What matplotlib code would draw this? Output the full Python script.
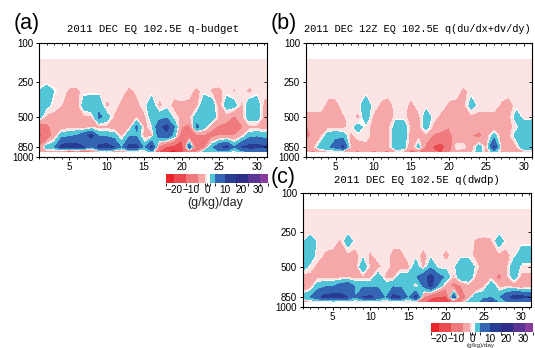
import matplotlib
matplotlib.use("Agg")
import matplotlib.pyplot as plt
import numpy as np
from matplotlib.colors import ListedColormap, BoundaryNorm
from matplotlib.cm import ScalarMappable
from matplotlib.ticker import MultipleLocator, FixedLocator

plt.rcParams['font.family'] = ['Liberation Sans', 'DejaVu Sans']

# pressure levels (hPa) and days of December 2011
plev = [150, 200, 250, 300, 400, 500, 600, 700, 850, 925]
days = list(range(1, 32))
bg = [-1] * 31

# (a) q-budget, rows 300..925 hPa
a300 = [0, 2.5, 0, -1, -2.5, -3, -1, -1, -1, -1, -1, -1, -3, -1.5, -1, -1, -1, -1, -1, -1, -1, -3, -1, -2.5, -3, -1, -2.5, -1, -3, -1, -1]
a400 = [2, 1, -1, -2, -3.5, -4, 2, 3, 2.5, -3, -1, -3, -4, -3, -1, 2, -3, -1, -3, -2.5, -3, -3, 3, 2.5, -4, 2, 1.5, -3, 2.5, 2, -3]
a500 = [1.5, -3, -3, -3, -4, -3, -3, -2.5, 5, 2, -2.5, -4, -3, -2.5, -3, 1.5, 2, 3, -1, -3, -3, 2, 4, 3, -3, -4, -7, -3, 2, 2, -3]
a600 = [-10, -8, -4, -4, -3, -3, -4, -3, -3, -3, -4, -4, -3, 5, -3, -1, 8, 12, 4, -6, -8, 5, 1.5, -5, -7, -8, -14, -7, -3, -3, -4]
a700 = [-14, -12, -4, 2, 3, 4, 8, 12, 3, 3, 2, -3, 3, 3, -3, -3, 6, 8, 2, -10, -10, -8, -7, -8, -6, -6, -6, -3, 2, 3, 2]
a850 = [-7, 2, 3, 12, 14, 13, 10, 3, 12, 13, 10, 3, 12, 12, 2, 12, -8, -14, -16, -18, 8, -12, -8, 3, 8, 12, 4, 10, 12, 12, 11]
a925 = [-3, -4, -5, -8, -14, -10, -12, -8, -5, -3, -6, -5, -4, -5, -3, 2, -14, -18, -28, -14, -10, -6, 2, 2, 3, 2, -3, 2, 3, 2, 3]

# (b) q(du/dx+dv/dy)
b300 = [-1] * 21 + [-3] + [-1] * 9
b400 = [-1, -1, -1, -3, -3, -1, -1, -1, 2, -1, -2.5, -3.5, -1, -1, -3, -1, -1, -1, -1, -2.5, -3, -3, 1.5, -1, -1, -1, -2.5, -3.5, -1, -1, -1]
b500 = [-3, -3, -3, -3, -3, -2.5, -1, -3, 2, -2.5, -3, -4, -1, -1, -3.5, -3, 2, -1, -3, -3, -3, -3, -3, -3, -3, -3, -3, -3, 1.5, -1, -1]
b600 = [-7, -4, -3, -3, -3, -3, -1, 1.5, -1, -3, -4, -3, 2, 2.5, -3, -3, 1.5, -3, -4, -6, -4, -3, -3, -4, -4, -4, -4, -3, -1, 2, 3]
b700 = [-8, -5, -3, 2, 3, 2, -3, -1, -1, -3, -3, -3, 2.5, 2.5, -4, -3, -3, -7, -8, -8, -4, -3, -6, -8, -4, 2, -4, -3, 1.5, 2.5, 2.5]
b850 = [-4, -3, 2, 3, 6, 11, -3, -4, -3, -4, -4, -3, 2.5, 2, -5, 1.5, -8, -14, -16, -10, -1, -1.5, -4, 2, -3, 11, -3, -3, -2.5, 3, 3]
b925 = [-5, -8, -4, -3, -3, -5, -6, -7, -5, -7, -6, -8, -3, -3, -8, -7, -9, -12, -14, -7, -3, -3, -3, 2, -4, 2, -3, -4, -3, -3, -3]

# (c) q(dwdp)
c300 = [-1, 2.5, -1, -1, -1, -2.5, 2, -1, -1, -1, -1, -1, -1, -1, -1, -1, -1, -1, -1, -1, -1, -1, -1, -2.5, -3, -2.5, 2, -1, -1, -1, -1]
c400 = [2, 2, -1, -2.5, -3, -3.5, -3, -3, -1, -2.5, -1, -1, -3, -3, -1, -1, -3, -1, -1, -3, -1, -1, -1, -3, -3, -3, -3, -3, -1, 2, 2]
c500 = [2, -1, -3, -3, -4, -3, -3, -4, 3, -3, -3, -1, -3, -3, -3, 2, -3, 3, -1, -1, -1, 3, 3, -1, -4, -4, -4, -3, 3, -1, -1]
c600 = [-4, -3, -3, -3, -3, -3, -3, -3, -3, -3, 2.5, -3, -3, 2, 2, 3, 8, 12, 6, 3, -3, 3, 3, -3, -3, -3, -8, -3, 2, -3, -3]
c700 = [-8, -4, 2, 3, 3, 6, 8, 3, 3, 3, 3, 2, 3, 3, 3, -3, 5, 12, 3, -4, -8, -6, -3, -6, -3, 3, -3, -3, -4, -6, -4]
c850 = [3, 4, 8, 12, 13, 12, 10, 4, 10, 11, 8, 3, 12, 10, 3, 12, -6, -12, -14, -14, 8, -10, -4, 3, 3, 3, 3, 8, 12, 12, 10]
c925 = [-6, -3, -3, -4, -3, -3, -4, -3, -3, -3, -3, -3, -3, -3, -3, -4, -12, -16, -20, -16, -12, -6, 2, 2, 6, 11, 3, 3, 3, 3, 3]

q_budget = [bg, bg, bg, a300, a400, a500, a600, a700, a850, a925]
q_div = [bg, bg, bg, b300, b400, b500, b600, b700, b850, b925]
q_dwdp = [bg, bg, bg, c300, c400, c500, c600, c700, c850, c925]

fill_levels = [-1000, -20, -13, -6, -2, -0.3, 0.1, 4, 10, 17, 24, 31, 1000]
cbar_bounds = [-25, -20, -13, -6, -2, -0.5, 1, 4, 10, 17, 24, 31, 36]
cbar_ticks = [-20, -10, 0, 10, 20, 30]
colors = ["#e8242a", "#eb4b50", "#f07b7e", "#f6a8a9", "#fde4e4", "#ffffff",
          "#52c6d6", "#3465b4", "#283c94", "#2e2d88", "#5b3596", "#893c9b"]

W, H = 535, 348


def frac(l, t, r, b):
    return [l / W, 1 - b / H, (r - l) / W, (b - t) / H]


def fwd(p):
    p = np.asarray(p, float)
    return np.sign(p) * np.abs(p) ** 0.19


def inv(h):
    h = np.asarray(h, float)
    return np.sign(h) * np.abs(h) ** (1 / 0.19)


def setup(ax, xmax):
    ax.set_yscale('function', functions=(fwd, inv))
    ax.set_xlim(1, xmax)
    ax.set_ylim(1000, 100)
    ax.yaxis.set_major_locator(FixedLocator([100, 250, 500, 850, 1000]))
    ax.yaxis.set_minor_locator(FixedLocator([]))
    ax.xaxis.set_major_locator(FixedLocator([5, 10, 15, 20, 25, 30]))
    ax.xaxis.set_minor_locator(MultipleLocator(1))


def panel(box, rows, xmax, title, tx, ty, tsize, label, lx, ly):
    ax = fig.add_axes(frac(*box))
    z = np.array(rows, float)
    z = np.column_stack([z, z[:, -1]])
    x = np.array(days + [xmax], float)
    ax.contourf(x, plev, z, levels=fill_levels, colors=colors)
    setup(ax, xmax)
    ax.set_yticklabels(["100", "250", "500", "850", "1000"])
    ax.tick_params(which='major', direction='out', length=2.5, width=0.7,
                   labelsize=7, pad=1.5)
    ax.tick_params(which='minor', direction='out', length=1.5, width=0.6)
    for s in ax.spines.values():
        s.set_linewidth(0.8)
    ov = fig.add_axes(frac(*box), frameon=False)
    setup(ov, xmax)
    ov.patch.set_visible(False)
    ov.tick_params(which='both', direction='in', bottom=False, left=False,
                   top=True, right=True, labelbottom=False, labelleft=False,
                   width=0.6)
    ov.tick_params(which='major', length=2.5)
    ov.tick_params(which='minor', length=1.5)
    fig.text(tx / W, 1 - ty / H, title, ha='center', va='center',
             family='Liberation Mono', fontsize=tsize)
    fig.text(lx / W, 1 - ly / H, label, ha='center', va='center', fontsize=15.5)
    return ax


def colorbar(box, unit_y, unit_size):
    cax = fig.add_axes(frac(*box))
    sm = ScalarMappable(norm=BoundaryNorm(cbar_bounds, 12), cmap=ListedColormap(colors))
    cb = fig.colorbar(sm, cax=cax, orientation='horizontal',
                      spacing='proportional', ticks=cbar_ticks)
    cb.outline.set_visible(False)
    cax.tick_params(length=0, labelsize=7.2, pad=2)
    cx = (box[0] + box[2]) / 2 - 2
    fig.text(cx / W, 1 - unit_y / H, "(g/kg)/day", ha='center', va='center',
             fontsize=unit_size, color='#222222')


fig = plt.figure(figsize=(W / 100, H / 100), dpi=100)

panel((39, 42.7, 267.3, 156.7), q_budget, 31.4,
      "2011 DEC EQ 102.5E q-budget", 153, 29.3, 7.7, "(a)", 27, 23)
panel((305.5, 43, 532.3, 156.7), q_div, 31.1,
      "2011 DEC 12Z EQ 102.5E q(du/dx+dv/dy)", 417, 29.3, 7.4, "(b)", 283.5, 23)
panel((302.5, 192.7, 531, 306.7), q_dwdp, 31.25,
      "2011 DEC EQ 102.5E q(dwdp)", 417, 180, 7.7, "(c)", 283, 178)

colorbar((166, 174.3, 268.3, 182.7), 203, 9)
colorbar((431, 322.7, 533.3, 331.7), 345.5, 4.5)

fig.savefig("out.png", dpi=100)
